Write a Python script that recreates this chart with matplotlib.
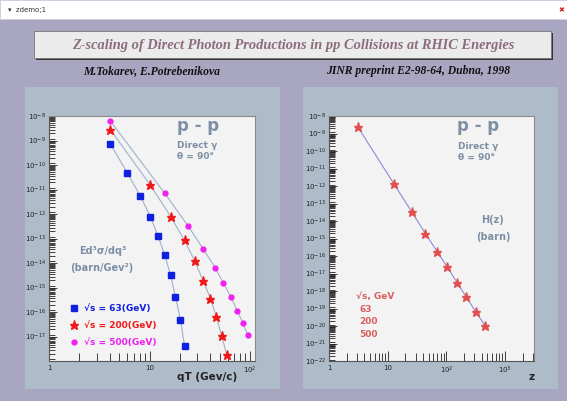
import numpy as np
import matplotlib
matplotlib.use("Agg")
import matplotlib.pyplot as plt
from matplotlib.patches import Rectangle
from matplotlib.lines import Line2D
from matplotlib.ticker import LogLocator, FixedLocator, NullFormatter

# --- data ---
qt_63 = [4.07, 6.0, 8.07, 10.2, 12.1, 14.2, 16.2, 18.1, 20.3, 22.3]
ed_63 = [7.4e-10, 4.8e-11, 5.6e-12, 7.8e-13, 1.3e-13, 2.1e-14, 3.2e-15, 4.2e-16, 4.9e-17, 4.1e-18]

qt_200 = [4.07, 10.2, 16.2, 22.3, 28.2, 34.1, 40.4, 46.3, 52.3, 58.7]
ed_200 = [2.8e-9, 1.5e-11, 7.9e-13, 8.3e-14, 1.2e-14, 1.9e-15, 3.5e-16, 6.3e-17, 1.05e-17, 1.7e-18]

qt_500 = [4.07, 14.2, 24.4, 34.4, 44.9, 54.3, 64.8, 74.8, 84.6, 95.5]
ed_500 = [6.3e-9, 6.9e-12, 3.1e-13, 3.6e-14, 6.5e-15, 1.5e-15, 4.0e-16, 1.1e-16, 3.6e-17, 1.1e-17]

z_vals = [3.12, 12.8, 26.0, 43.9, 69.3, 104, 152, 219, 316, 462]
hz_vals = [2.3e-9, 1.3e-12, 3.1e-14, 1.9e-15, 1.8e-16, 2.3e-17, 3.0e-18, 4.4e-19, 6.5e-20, 9.7e-21]

energies = ["63", "200", "500"]

W, H = 567, 401
BG = "#a9a6c2"
PANEL = "#adbcc8"
AXBG = "#f3f3f3"
GREY_TXT = "#7d8fa4"
SALMON = "#d8605e"


def fx(x):
    return x / W


def fy(y):
    return 1 - y / H


fig = plt.figure(figsize=(W / 100, H / 100), dpi=100)
fig.patch.set_facecolor(BG)

# window title bar
fig.patches.append(Rectangle((0, fy(19)), 1, 19 / H, transform=fig.transFigure,
                             facecolor="white", edgecolor="#d0d0e0", lw=0.6, zorder=-5))
fig.text(fx(8), fy(10), "\u25be  zdemo;1", fontsize=5, color="#333333", va="center")
fig.text(fx(561), fy(10), "\u2716", fontsize=5, color="#cc2222", va="center", ha="center")

# title box with shadow
fig.patches.append(Rectangle((fx(36), fy(60)), (551 - 34) / W, 27 / H, transform=fig.transFigure,
                             facecolor="#333333", edgecolor="none", zorder=1))
fig.patches.append(Rectangle((fx(34), fy(58)), (551 - 34) / W, 27 / H, transform=fig.transFigure,
                             facecolor="#ebebeb", edgecolor="#777777", lw=0.6, zorder=2))
serif = ["Liberation Serif", "DejaVu Serif"]
fig.text(fx(293), fy(45), "Z-scaling of Direct Photon Productions in pp Collisions at RHIC Energies",
         family=serif, style="italic", weight="bold", fontsize=10.4, color="#8a6c7c",
         ha="center", va="center", zorder=3)
fig.text(fx(152), fy(71), "M.Tokarev, E.Potrebenikova", family=serif, style="italic",
         weight="bold", fontsize=8.4, color="#111111", ha="center", va="center")
fig.text(fx(418), fy(71), "JINR preprint E2-98-64, Dubna, 1998", family=serif, style="italic",
         weight="bold", fontsize=8.4, color="#111111", ha="center", va="center")

# pads
for x0 in (25, 303):
    fig.patches.append(Rectangle((fx(x0), fy(389)), 255 / W, (389 - 87) / H,
                                 transform=fig.transFigure, facecolor=PANEL,
                                 edgecolor="none", zorder=-5))


def style_axes(ax, ymin, ymax, xmax, xticks, xlabels, ylabel_exps):
    ax.set_zorder(5)
    ax.set_facecolor(AXBG)
    ax.set_xscale("log")
    ax.set_yscale("log")
    ax.set_xlim(1, xmax)
    ax.set_ylim(ymin, ymax)
    for s in ax.spines.values():
        s.set_color("#555555")
        s.set_linewidth(0.8)
    ax.spines["top"].set_color("#8a8a8a")
    ax.spines["right"].set_color("#8a8a8a")
    ax.yaxis.set_major_locator(FixedLocator([10.0 ** e for e in ylabel_exps]))
    ax.set_yticklabels([r"$10^{%d}$" % e for e in ylabel_exps])
    ax.yaxis.set_minor_locator(LogLocator(base=10, subs=np.arange(1.2, 10, 0.8), numticks=40))
    ax.yaxis.set_minor_formatter(NullFormatter())
    ax.xaxis.set_major_locator(FixedLocator(xticks))
    ax.set_xticklabels(xlabels)
    ax.xaxis.set_minor_locator(LogLocator(base=10, subs=np.arange(2, 10), numticks=10))
    ax.xaxis.set_minor_formatter(NullFormatter())
    ax.tick_params(axis="both", which="both", direction="in", colors="#222222",
                   labelsize=5, width=0.6, top=False, right=False)
    ax.tick_params(axis="y", which="major", length=6, pad=2)
    ax.tick_params(axis="y", which="minor", length=4)
    ax.tick_params(axis="x", which="major", length=7, pad=3)
    ax.tick_params(axis="x", which="minor", length=6)


# ---- left pad: cross sections vs qT ----
ax1 = fig.add_axes([fx(49), fy(361), 206 / W, 245 / H])
style_axes(ax1, 1e-18, 1e-8, 112, [1, 10, 100], ["1", "10", r"$10^{2}$"], list(range(-17, -7)))
ln = "#9fb2c8"
ax1.plot(qt_63, ed_63, color=ln, lw=0.8, zorder=2)
ax1.plot(qt_200, ed_200, color=ln, lw=0.8, zorder=2)
ax1.plot(qt_500, ed_500, color=ln, lw=0.8, zorder=2)
ax1.plot(qt_63, ed_63, ls="none", marker="s", ms=4.5, color="#1020e0", zorder=3)
ax1.plot(qt_200, ed_200, ls="none", marker="*", ms=6.5, color="#f01818", zorder=3)
ax1.plot(qt_500, ed_500, ls="none", marker="o", ms=3.5, color="#f020f0", zorder=3)
ax1.set_xlabel("qT (Gev/c)", fontsize=7.5, weight="bold", color="#222222")
ax1.xaxis.set_label_coords(0.767, -0.045)

handles = [Line2D([], [], ls="none", marker="s", ms=4.5, color="#1020e0"),
           Line2D([], [], ls="none", marker="*", ms=6.5, color="#f01818"),
           Line2D([], [], ls="none", marker="o", ms=3.5, color="#f020f0")]
leg = ax1.legend(handles, ["\u221as = %s(GeV)" % e for e in energies], loc="lower left",
                 bbox_to_anchor=(0.06, 0.025), frameon=False, prop={"size": 6.5, "weight": "bold"},
                 handlelength=1.0, handletextpad=0.6, labelspacing=0.85)
for t, c in zip(leg.get_texts(), ["#1020e0", "#f01818", "#f020f0"]):
    t.set_color(c)

ax1.text(0.62, 0.96, "p - p", transform=ax1.transAxes, fontsize=12, weight="bold",
         color=GREY_TXT, va="center")
ax1.text(0.62, 0.88, "Direct \u03b3", transform=ax1.transAxes, fontsize=6.5, weight="bold",
         color=GREY_TXT, va="center")
ax1.text(0.62, 0.835, "\u03b8 = 90\u00b0", transform=ax1.transAxes, fontsize=6.5, weight="bold",
         color=GREY_TXT, va="center")
ax1.text(0.26, 0.45, "Ed\u00b3\u03c3/dq\u00b3", transform=ax1.transAxes, fontsize=7,
         weight="bold", color=GREY_TXT, ha="center", va="center")
ax1.text(0.255, 0.378, "(barn/Gev\u00b2)", transform=ax1.transAxes, fontsize=7,
         weight="bold", color=GREY_TXT, ha="center", va="center")

# ---- right pad: H(z) vs z ----
ax2 = fig.add_axes([fx(329), fy(361), 205 / W, 245 / H])
style_axes(ax2, 1e-22, 1e-8, 3100, [1, 10, 100, 1000], ["1", "10", r"$10^{2}$", r"$10^{3}$"],
           list(range(-22, -7)))
ax2.plot(z_vals, hz_vals, color="#8a8ed6", lw=0.8, zorder=2)
ax2.plot(z_vals, hz_vals, ls="none", marker="*", ms=6.5, color="#e05050", zorder=3)
ax2.set_xlabel("z", fontsize=7.5, weight="bold", color="#222222")
ax2.xaxis.set_label_coords(0.99, -0.045)

ax2.text(0.625, 0.96, "p - p", transform=ax2.transAxes, fontsize=12, weight="bold",
         color=GREY_TXT, va="center")
ax2.text(0.628, 0.875, "Direct \u03b3", transform=ax2.transAxes, fontsize=6.5, weight="bold",
         color=GREY_TXT, va="center")
ax2.text(0.628, 0.83, "\u03b8 = 90\u00b0", transform=ax2.transAxes, fontsize=6.5, weight="bold",
         color=GREY_TXT, va="center")
ax2.text(0.80, 0.575, "H(z)", transform=ax2.transAxes, fontsize=7, weight="bold",
         color=GREY_TXT, ha="center", va="center")
ax2.text(0.80, 0.505, "(barn)", transform=ax2.transAxes, fontsize=7, weight="bold",
         color=GREY_TXT, ha="center", va="center")

ax2.text(0.13, 0.262, "\u221as, GeV", transform=ax2.transAxes, fontsize=6.5, weight="bold",
         color=SALMON, va="center")
for i, e in enumerate(energies):
    ax2.text(0.15, 0.21 - 0.05 * i, e, transform=ax2.transAxes, fontsize=6.5, weight="bold",
             color=SALMON, va="center")

fig.savefig("out.png", dpi=100, facecolor=fig.get_facecolor())
